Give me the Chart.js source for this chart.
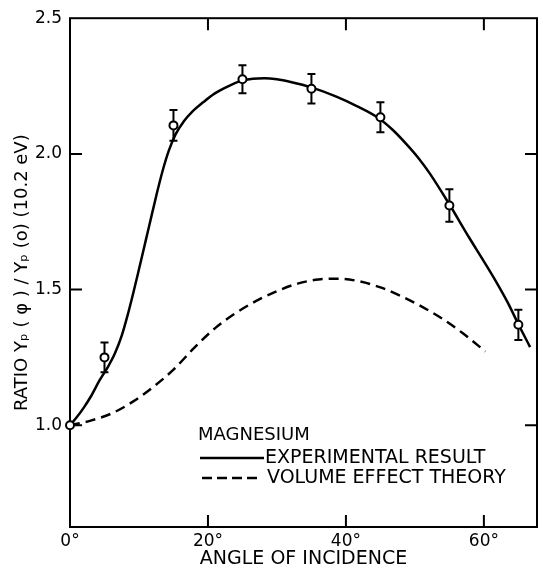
<!DOCTYPE html>
<html>
<head>
<meta charset="utf-8">
<script src="https://cdn.jsdelivr.net/npm/chart.js@4"></script>
<style>
  html, body { margin: 0; padding: 0; background: #fff; }
  #wrap { width: 543px; height: 571px; position: relative; }
</style>
</head>
<body>
<div id="wrap"><canvas id="ratioChart"></canvas></div>
<script>
// measured points (with error bars)
const angles = [0, 5, 15, 25, 35, 45, 55, 65];
const ratios = [1.0, 1.25, 2.105, 2.275, 2.24, 2.135, 1.81, 1.37];
const errors = [0, 0.055, 0.057, 0.052, 0.054, 0.055, 0.06, 0.056];

// experimental result (solid curve)
const expAngles = [0, 1, 2, 3, 4.3, 5.5, 6.5, 7.5, 8.4, 9.2, 10, 11, 11.5, 12.5, 13.4, 14.3, 15.3, 16.5, 17.7, 19.3, 21, 23, 24.7, 26.5, 28.2, 30, 32, 35, 38.7, 41.5, 44.6, 46.8, 48.8, 50.5, 52.1, 54.9, 57.9, 59.8, 61.7, 63.5, 65, 66.7];
const expRatios = [1.0, 1.03, 1.065, 1.105, 1.166, 1.215, 1.264, 1.33, 1.41, 1.49, 1.575, 1.683, 1.737, 1.845, 1.935, 2.01, 2.072, 2.12, 2.155, 2.19, 2.223, 2.25, 2.268, 2.277, 2.279, 2.275, 2.265, 2.245, 2.21, 2.177, 2.134, 2.088, 2.035, 1.985, 1.93, 1.818, 1.69, 1.612, 1.532, 1.45, 1.372, 1.288];

// volume effect theory (dashed curve)
const theoryAngles = [0, 3, 6, 9, 12, 15, 18, 21, 24, 27, 30, 33, 36, 39, 42, 45, 48, 51, 54, 57, 60.2];
const theoryRatios = [1.0, 1.017, 1.043, 1.085, 1.14, 1.205, 1.285, 1.357, 1.413, 1.458, 1.494, 1.522, 1.537, 1.54, 1.53, 1.508, 1.476, 1.437, 1.392, 1.338, 1.272];

const xTicks = [0, 20, 40, 60];
const yTicks = [1.0, 1.5, 2.0, 2.5];

const legendTitle = 'MAGNESIUM';
const legendLabels = ['EXPERIMENTAL RESULT', 'VOLUME EFFECT THEORY'];

Chart.defaults.font.family = '"DejaVu Sans", sans-serif';
Chart.defaults.color = '#000';

const toXY = (xs, ys) => xs.map((x, i) => ({ x: x, y: ys[i] }));

// frame, inward tick marks and error bars
const framePlugin = {
  id: 'frame',
  beforeDatasetsDraw(chart) {
    const { ctx, chartArea: a, scales } = chart;
    const xs = scales.x, ys = scales.y;
    ctx.save();
    ctx.strokeStyle = '#000';
    ctx.lineWidth = 2;
    ctx.strokeRect(a.left, a.top, a.right - a.left, a.bottom - a.top);
    ctx.beginPath();
    xs.ticks.forEach(t => {
      if (t.value <= 0) return;
      const px = xs.getPixelForValue(t.value);
      ctx.moveTo(px, a.bottom); ctx.lineTo(px, a.bottom - 12);
      ctx.moveTo(px, a.top); ctx.lineTo(px, a.top + 12);
    });
    ys.ticks.forEach(t => {
      if (t.value >= 2.5) return;
      const py = ys.getPixelForValue(t.value);
      ctx.moveTo(a.left, py); ctx.lineTo(a.left + 12, py);
      ctx.moveTo(a.right, py); ctx.lineTo(a.right - 12, py);
    });
    ctx.stroke();

    // error bars
    ctx.beginPath();
    angles.forEach((ang, i) => {
      if (!errors[i]) return;
      const px = xs.getPixelForValue(ang);
      const top = ys.getPixelForValue(ratios[i] + errors[i]);
      const bot = ys.getPixelForValue(ratios[i] - errors[i]);
      ctx.moveTo(px, top); ctx.lineTo(px, bot);
      ctx.moveTo(px - 4, top); ctx.lineTo(px + 4, top);
      ctx.moveTo(px - 4, bot); ctx.lineTo(px + 4, bot);
    });
    ctx.stroke();
    ctx.restore();
  }
};

// legend block inside the plot
const legendPlugin = {
  id: 'magLegend',
  afterDraw(chart) {
    const { ctx } = chart;
    ctx.save();
    ctx.fillStyle = '#000';
    ctx.strokeStyle = '#000';
    ctx.textBaseline = 'middle';
    ctx.textAlign = 'left';
    ctx.font = '18px "DejaVu Sans"';
    ctx.fillText(legendTitle, 198, 435);
    ctx.font = '19px "DejaVu Sans"';
    ctx.lineWidth = 2.5;
    ctx.beginPath();
    ctx.moveTo(200, 458); ctx.lineTo(264, 458);
    ctx.stroke();
    ctx.fillText(legendLabels[0], 265, 458);
    ctx.setLineDash([10, 5]);
    ctx.beginPath();
    ctx.moveTo(202, 478); ctx.lineTo(258, 478);
    ctx.stroke();
    ctx.setLineDash([]);
    ctx.fillText(legendLabels[1], 267, 478);
    ctx.restore();
  }
};

new Chart(document.getElementById('ratioChart'), {
  type: 'scatter',
  data: {
    datasets: [
      {
        label: 'data',
        data: toXY(angles, ratios),
        pointRadius: 4,
        pointBorderWidth: 2,
        pointBackgroundColor: '#fff',
        pointBorderColor: '#000',
        showLine: false,
        clip: false
      },
      {
        label: legendLabels[0],
        data: toXY(expAngles, expRatios),
        showLine: true,
        borderColor: '#000',
        borderWidth: 2.5,
        pointRadius: 0,
        cubicInterpolationMode: 'monotone'
      },
      {
        label: legendLabels[1],
        data: toXY(theoryAngles, theoryRatios),
        showLine: true,
        borderColor: '#000',
        borderWidth: 2.5,
        borderDash: [10, 6],
        pointRadius: 0,
        cubicInterpolationMode: 'monotone'
      }
    ]
  },
  options: {
    responsive: true,
    maintainAspectRatio: false,
    animation: false,
    layout: { padding: { top: 18, right: 1, bottom: 0, left: 0 } },
    plugins: {
      legend: { display: false },
      tooltip: { enabled: false }
    },
    scales: {
      x: {
        type: 'linear',
        min: 0,
        max: 67.7,
        afterBuildTicks: s => { s.ticks = xTicks.map(v => ({ value: v })); },
        afterFit: s => { s.height = 44; },
        grid: { display: false, drawTicks: false, tickLength: 0 },
        border: { display: false },
        ticks: {
          padding: 4,
          font: { size: 17 },
          callback: v => v + '°'
        },
        title: {
          display: true,
          text: 'ANGLE OF INCIDENCE',
          font: { size: 19 },
          padding: { top: 0, bottom: 1 }
        }
      },
      y: {
        min: 0.625,
        max: 2.5,
        afterBuildTicks: s => { s.ticks = yTicks.map(v => ({ value: v })); },
        afterFit: s => { s.width = 70; },
        grid: { display: false, drawTicks: false, tickLength: 0 },
        border: { display: false },
        ticks: {
          padding: 8,
          font: { size: 17 },
          callback: v => Number(v).toFixed(1)
        },
        title: {
          display: true,
          text: 'RATIO Yₚ ( φ ) / Yₚ (o) (10.2 eV)',
          font: { size: 18 },
          padding: { top: 12, bottom: 0 }
        }
      }
    }
  },
  plugins: [framePlugin, legendPlugin]
});
</script>
</body>
</html>
